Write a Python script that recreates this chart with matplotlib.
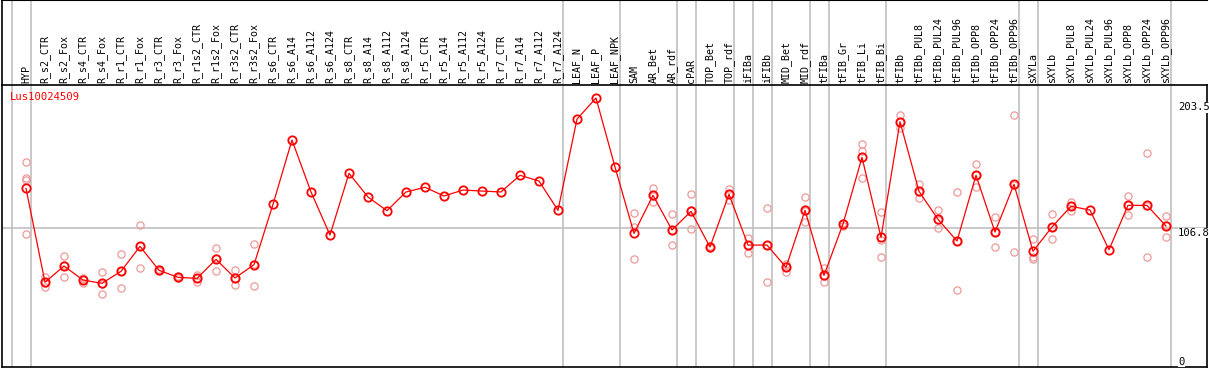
import numpy as np
import matplotlib.pyplot as plt
from matplotlib.transforms import blended_transform_factory

# sample labels, grouped (gray separators between groups)
labels = ["HYP",
          "R_s2_CTR", "R_s2_Fox", "R_s4_CTR", "R_s4_Fox", "R_r1_CTR", "R_r1_Fox",
          "R_r3_CTR", "R_r3_Fox", "R_r1s2_CTR", "R_r1s2_Fox", "R_r3s2_CTR", "R_r3s2_Fox",
          "R_s6_CTR", "R_s6_A14", "R_s6_A112", "R_s6_A124", "R_s8_CTR", "R_s8_A14",
          "R_s8_A112", "R_s8_A124", "R_r5_CTR", "R_r5_A14", "R_r5_A112", "R_r5_A124",
          "R_r7_CTR", "R_r7_A14", "R_r7_A112", "R_r7_A124",
          "LEAF_N", "LEAF_P", "LEAF_NPK",
          "SAM", "AR_Bet", "AR_rdf",
          "cPAR",
          "TOP_Bet", "TOP_rdf",
          "iFIBa",
          "iFIBb",
          "MID_Bet", "MID_rdf",
          "tFIBa",
          "tFIB_Gr", "tFIB_Li", "tFIB_Bi",
          "tFIBb", "tFIBb_PUL8", "tFIBb_PUL24", "tFIBb_PUL96", "tFIBb_OPP8",
          "tFIBb_OPP24", "tFIBb_OPP96",
          "sXYLa",
          "sXYLb", "sXYLb_PUL8", "sXYLb_PUL24", "sXYLb_PUL96", "sXYLb_OPP8",
          "sXYLb_OPP24", "sXYLb_OPP96"]
group_sizes = [1, 28, 3, 3, 1, 2, 1, 1, 2, 1, 3, 7, 1, 7]

means = [137.3, 65.1, 77.6, 66.8, 64.3, 73.5, 92.7, 74.3, 68.9, 68.1, 82.7, 68.4, 78.6,
         125.0, 174.4, 134.5, 101.4, 148.8, 130.6, 120.1, 134.5, 138.1, 131.4, 136.0,
         135.2, 134.5, 147.3, 142.9, 120.4,
         190.5, 206.7, 153.7,
         102.7, 131.9, 105.3,
         119.6,
         92.2, 132.7,
         93.7,
         93.7,
         76.6, 120.4,
         70.4,
         109.9, 161.1, 99.6,
         188.5, 135.0, 113.5, 96.8, 147.3, 103.7, 140.4,
         88.9,
         107.6, 123.5, 120.6, 90.1, 124.2, 124.2, 108.3]

reps = [[157.5, 145.0, 144.0, 102.2],
        [69.4, 64.5, 61.7], [85.3, 68.9, 78.6], [68.1, 64.8, 67.5], [73.0, 55.9, 64.0],
        [86.8, 60.4, 73.4], [109.1, 75.8, 93.2], [75.0, 73.5, 74.5], [69.7, 68.1, 68.9],
        [70.7, 65.6, 68.1], [91.2, 73.5, 83.4], [74.3, 62.8, 68.1], [94.5, 62.0, 79.3],
        [], [], [], [], [], [], [], [], [], [], [], [], [], [], [], [],
        [], [], [],
        [118.1, 107.8, 82.7], [137.5, 126.8, 131.7], [117.3, 93.7, 105.3],
        [132.7, 105.8, 120.3],
        [92.8, 91.8, 92.0], [137.0, 128.3, 132.8],
        [99.4, 87.8, 93.9],
        [121.9, 65.1, 94.1],
        [79.1, 73.2, 77.5], [130.4, 111.2, 119.6],
        [76.3, 65.3, 69.7],
        [110.7, 108.6, 110.4], [171.3, 166.2, 145.2], [118.9, 97.6, 84.3],
        [193.6, 183.9, 188.0], [140.6, 129.6, 134.8], [120.6, 106.6, 113.3],
        [134.2, 59.2, 97.0], [155.7, 138.5, 147.7], [115.3, 92.2, 103.6],
        [193.4, 88.1, 139.7],
        [98.3, 84.7, 83.0],
        [117.3, 98.1, 107.4], [127.0, 120.1, 123.5], [], [],
        [131.4, 117.0, 124.2], [164.4, 84.3, 124.0], [116.0, 99.9, 109.0]]

gene = "Lus10024509"
y_ticks = [203.5, 106.8, 0]

plt.rcParams['font.family'] = 'DejaVu Sans Mono'
plt.rcParams['font.size'] = 7.2

W, H = 1209, 370
fig = plt.figure(figsize=(W / 100, H / 100), dpi=100)
ax_h = fig.add_axes([2 / W, (H - 85) / H, 1205 / W, 85 / H])
ax = fig.add_axes([2 / W, 3 / H, 1205 / W, 282 / H])

x = np.arange(len(labels))
xlim = (-1.263, 62.158)
bounds = np.concatenate([[0], np.cumsum(group_sizes)]) - 1 + 0.237

for a in (ax_h, ax):
    a.set_xlim(*xlim)
    a.set_xticks([])
    a.set_yticks([])
    for b in bounds:
        a.axvline(b, color='#c0c0c0', lw=1.2, zorder=0)

# header with sample names
ax_h.set_ylim(0, 1)
for s in ['right', 'bottom']:
    ax_h.spines[s].set_visible(False)
ax_h.spines['top'].set_linewidth(1.5)
ax_h.spines['left'].set_linewidth(1.2)
for xi, lab in zip(x, labels):
    ax_h.text(xi, 0.025, lab, rotation=90, ha='center', va='bottom')

# expression plot
ax.set_ylim(0, 216.7)
for s in ax.spines.values():
    s.set_linewidth(1.2)
ax.axhline(106.8, color='#c0c0c0', lw=1.2, zorder=0)

for xi, r in zip(x, reps):
    if r:
        ax.plot([xi] * len(r), r, 'o', ms=5.2, mfc='none', mec='#ee9999', mew=0.9, zorder=2)
ax.plot(x, means, '-', color='red', lw=0.9, zorder=3)
ax.plot(x, means, 'o', ms=6, mfc='none', mec='red', mew=1.3, zorder=4)

tr = blended_transform_factory(ax.transAxes, ax.transData)
for v in y_ticks:
    ax.text(0.976, v, f"{v:g}", transform=tr, ha='left',
            va='top' if v > 0 else 'bottom', fontsize=7.6,
            bbox=dict(facecolor='white', edgecolor='none', pad=0.3), zorder=5)

ax.text(0.0066, 0.957, gene, transform=ax.transAxes, color='red',
        ha='left', va='center', fontsize=7.6)

fig.savefig("out.png", dpi=100)
